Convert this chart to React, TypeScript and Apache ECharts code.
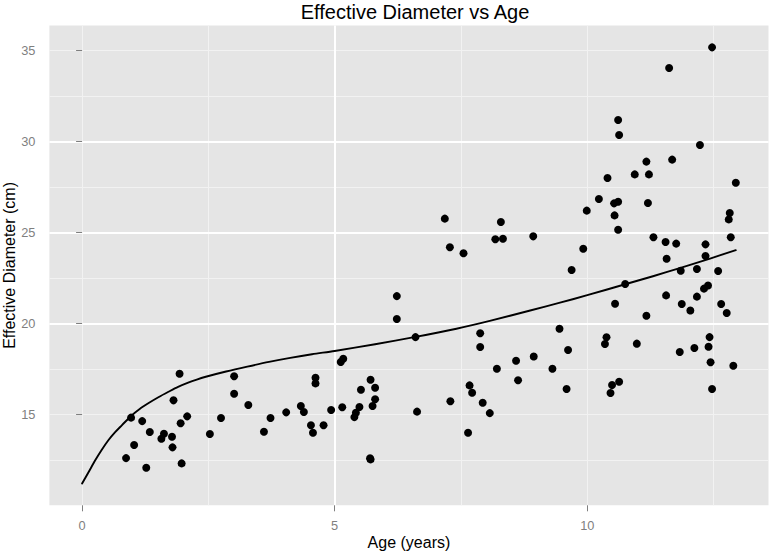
import React, { useEffect, useRef } from "react";
import * as echarts from "echarts";

// Age (years) of each tree
const ages = [
  1.93, 3.01, 3.01, 1.81, 3.29, 0.97, 1.19, 2.08, 1.95, 2.75, 3.73, 4.04, 1.34, 1.62, 1.57, 1.78, 2.53, 3.6, 1.03, 1.79, 0.87, 1.97, 1.27,
  6.23, 6.23, 6.6, 7.88, 7.88, 8.59, 8.63, 8.21, 7.67, 7.72, 7.93, 8.07, 7.29, 7.64, 6.63, 5.12, 5.17, 5.71, 5.8, 5.52, 5.8, 5.75, 5.49, 5.42, 5.39, 5.15, 4.93, 4.62, 4.62, 4.33, 4.39, 4.53, 4.57, 4.78, 5.7, 5.71,
  7.18, 7.28, 7.55, 8.29, 8.18, 8.33,
  12.47, 11.62, 10.61, 10.63, 12.23, 11.68, 11.17, 10.94, 11.22, 10.4, 12.94, 10.23, 10.53, 10.61, 11.2, 9.99, 10.54, 10.61, 12.82, 12.8, 12.84, 8.93, 9.92, 9.69, 11.31, 11.55, 11.76, 12.34, 11.57, 12.34, 11.85, 12.17, 12.59,
  10.75, 11.56, 11.87, 12.04, 12.17, 12.31, 12.39, 12.65, 12.76, 10.55, 11.17, 9.45, 10.38, 10.35, 10.98, 8.94, 9.62, 9.31, 9.59, 11.83, 12.12, 12.42, 12.4, 12.44, 12.89, 12.47, 10.49, 10.63, 10.46,
];

// Effective diameter (cm), same order as ages
const diameters = [
  17.25, 17.11, 16.15, 15.79, 15.53, 14.84, 14.65, 14.91, 14.53, 14.82, 14.82, 15.13, 14.05, 13.96, 13.68, 13.79, 13.94, 14.07, 13.34, 13.21, 12.62, 12.33, 12.09,
  21.51, 20.25, 19.26, 19.47, 18.72, 17.96, 16.89, 17.52, 16.61, 16.21, 15.66, 15.09, 15.74, 14.01, 15.17, 17.89, 18.07, 16.92, 16.48, 16.37, 15.85, 15.48, 15.42, 15.11, 14.87, 15.41, 15.26, 17.03, 16.72, 15.48, 15.15, 14.42, 14.01, 14.42, 12.61, 12.55,
  25.76, 24.19, 23.86, 25.58, 24.63, 24.66,
  35.16, 34.03, 31.17, 30.35, 29.8, 29.0, 28.89, 28.19, 28.19, 27.99, 27.73, 26.84, 26.6, 26.69, 26.62, 26.2, 25.94, 25.15, 26.07, 25.72, 24.74, 24.79, 24.11, 22.94, 24.74, 24.48, 24.39, 24.35, 23.56, 23.71, 22.9, 23.0, 22.89,
  22.17, 21.55, 21.08, 20.72, 21.48, 21.92, 22.09, 21.08, 20.58, 21.09, 20.43, 19.72, 19.25, 18.88, 18.9, 18.2, 18.55, 17.52, 16.41, 18.44, 18.66, 19.26, 18.73, 17.88, 17.69, 16.41, 16.63, 16.81, 16.19,
];

// Fitted curve
const curveAge = [0, 0.13, 0.26, 0.39, 0.52, 0.65, 0.79, 0.98, 1.14, 1.31, 1.51, 1.71, 1.9, 2.1, 2.27, 2.43, 2.85, 3.27, 3.7, 4.12, 4.55, 5, 5.8, 6.6, 7.41, 8.07, 8.87, 9.46, 10, 10.75, 11.3, 11.83, 12.43, 12.94];
const curveDiameter = [11.23, 11.86, 12.5, 13.08, 13.6, 14.03, 14.43, 14.96, 15.32, 15.63, 15.96, 16.26, 16.53, 16.76, 16.93, 17.07, 17.37, 17.64, 17.9, 18.12, 18.32, 18.5, 18.87, 19.27, 19.72, 20.15, 20.72, 21.15, 21.56, 22.16, 22.6, 23.05, 23.57, 24.03];

// Tick labels
const xTicks = [0, 5, 10];
const yTicks = [10, 15, 20, 25, 30, 35];

const X_MIN = -0.647;
const X_MAX = 13.587;
const Y_MIN = 10.03;
const Y_MAX = 36.36;

const FONT = "'Liberation Sans', Arial, Helvetica, sans-serif";
const GREY = "#7F7F7F";

export default function App() {
  const ref = useRef<HTMLDivElement>(null);

  useEffect(() => {
    if (!ref.current) return;
    const chart = echarts.init(ref.current, null, { renderer: "svg" });

    const points = ages.map((a, i) => [a, diameters[i]]);
    const curve = curveAge.map((a, i) => [a, curveDiameter[i]]);

    const minorAxis = (min: number, max: number, position: string) => ({
      type: "value",
      position,
      min,
      max,
      minInterval: 2.5,
      maxInterval: 2.5,
      splitNumber: 5,
      z: 0,
      axisLine: { show: false },
      axisTick: { show: false },
      axisLabel: { show: false },
      splitLine: {
        show: true,
        showMinLine: false,
        showMaxLine: false,
        lineStyle: { color: "#F2F2F2", width: 1 },
      },
    });

    chart.setOption({
      animation: false,
      backgroundColor: "#FFFFFF",
      title: {
        text: "Effective Diameter vs Age",
        left: 410,
        top: -3,
        textAlign: "center",
        textStyle: { fontFamily: FONT, fontSize: 20, fontWeight: "normal", color: "#000000" },
      },
      grid: {
        left: 49.4,
        right: 4.5,
        top: 25.5,
        bottom: 46.7,
        show: true,
        backgroundColor: "#E5E5E5",
        borderWidth: 0,
        containLabel: false,
        outerBoundsMode: "none",
      },
      xAxis: [
        minorAxis(X_MIN, X_MAX, "bottom"),
        {
          type: "value",
          position: "bottom",
          min: X_MIN,
          max: X_MAX,
          minInterval: 5,
          maxInterval: 5,
          splitNumber: 3,
          z: 1,
          name: "Age (years)",
          nameLocation: "middle",
          nameGap: 29,
          nameMoveOverlap: false,
          nameTextStyle: { fontFamily: FONT, fontSize: 16, color: "#000000" },
          axisLine: { show: false },
          axisTick: { show: true, length: 6, customValues: xTicks, lineStyle: { color: GREY, width: 1 } },
          axisLabel: { customValues: xTicks, color: GREY, fontFamily: FONT, fontSize: 12.8, margin: 14 },
          splitLine: {
            show: true,
            showMinLine: false,
            showMaxLine: false,
            lineStyle: { color: "#FFFFFF", width: 2 },
          },
        },
      ],
      yAxis: [
        minorAxis(Y_MIN, Y_MAX, "left"),
        {
          type: "value",
          position: "left",
          min: Y_MIN,
          max: Y_MAX,
          minInterval: 5,
          maxInterval: 5,
          splitNumber: 5,
          z: 1,
          name: "Effective Diameter (cm)",
          nameLocation: "middle",
          nameGap: 32,
          nameRotate: 90,
          nameMoveOverlap: false,
          nameTextStyle: { fontFamily: FONT, fontSize: 16, color: "#000000" },
          axisLine: { show: false },
          axisTick: { show: true, length: 6, customValues: yTicks, lineStyle: { color: GREY, width: 1 } },
          axisLabel: { customValues: yTicks, color: GREY, fontFamily: FONT, fontSize: 12.8, margin: 14 },
          splitLine: {
            show: true,
            showMinLine: false,
            showMaxLine: false,
            lineStyle: { color: "#FFFFFF", width: 2 },
          },
        },
      ],
      series: [
        {
          type: "scatter",
          xAxisIndex: 1,
          yAxisIndex: 1,
          data: points,
          symbol: "circle",
          symbolSize: 8,
          itemStyle: { color: "#000000", opacity: 1 },
          z: 2,
        },
        {
          type: "line",
          xAxisIndex: 1,
          yAxisIndex: 1,
          data: curve,
          showSymbol: false,
          smooth: 0.3,
          lineStyle: { color: "#000000", width: 1.9, cap: "round", join: "round" },
          z: 3,
        },
      ],
    });

    return () => chart.dispose();
  }, []);

  return (
    <div
      ref={ref}
      style={{ position: "absolute", left: 0, top: 0, width: 773, height: 552, background: "#FFFFFF" }}
    />
  );
}
